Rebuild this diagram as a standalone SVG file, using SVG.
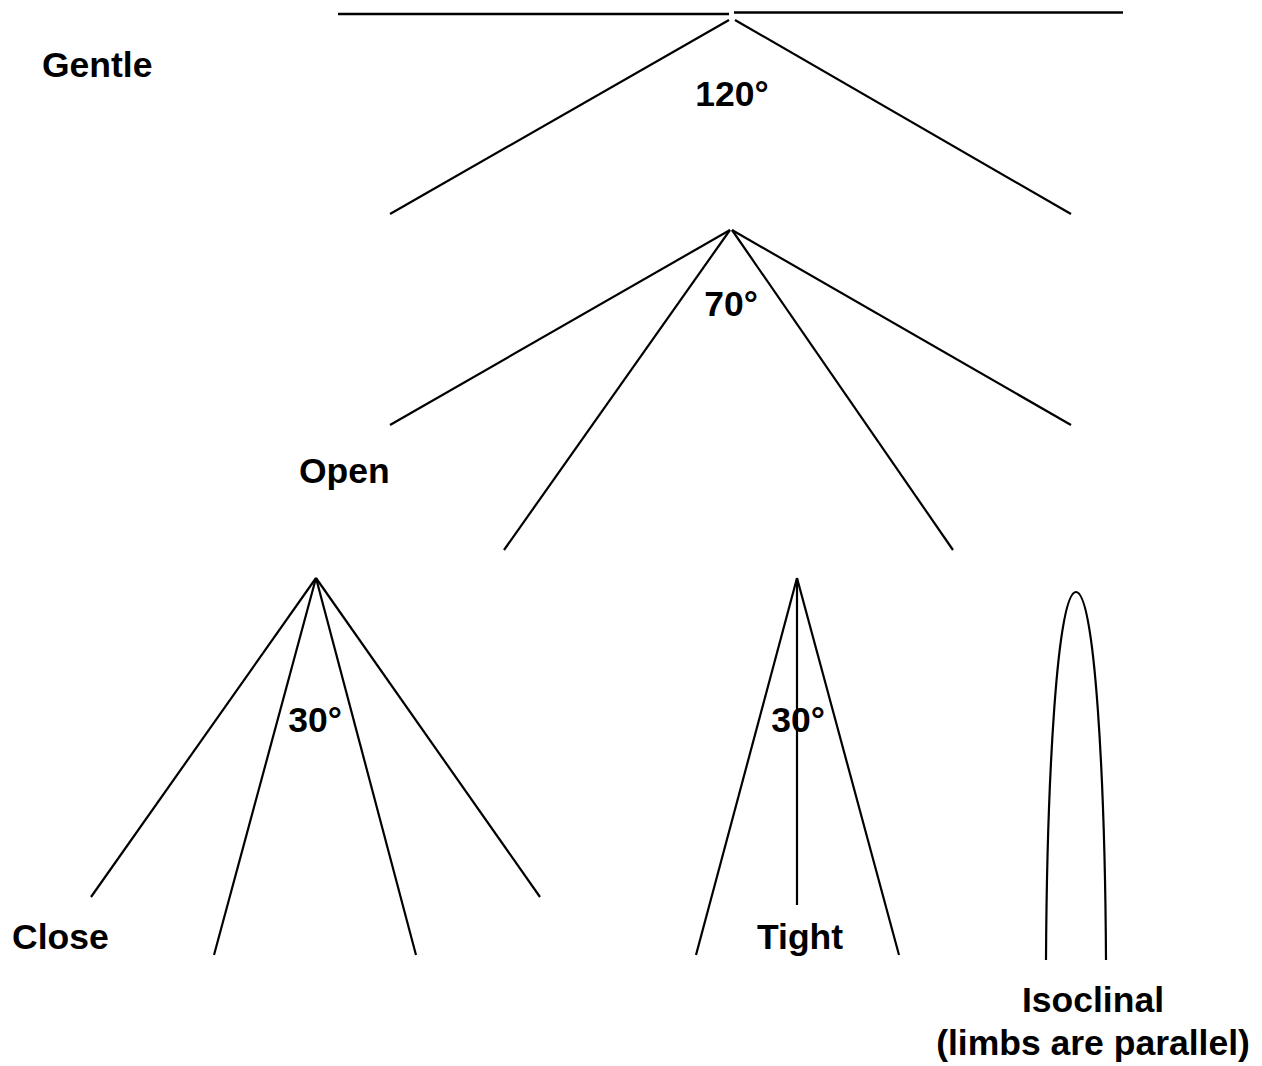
<svg xmlns="http://www.w3.org/2000/svg" width="1262" height="1066" viewBox="0 0 1262 1066">
  <style>
    .limb { stroke: #000; stroke-width: 2.2; fill: none; stroke-linecap: butt; }
    .axial { stroke: #000; stroke-width: 2.6; fill: none; }
    .lbl { font-family: "Liberation Sans", Arial, Helvetica, sans-serif; font-weight: bold; font-size: 35.5px; fill: #000; }
    .mid { text-anchor: middle; }
  </style>
  <rect width="1262" height="1066" fill="#fff"/>

  <!-- Gentle fold: 120 degree interlimb angle, with the flat reference line -->
  <g id="gentle">
    <line class="axial" x1="338" y1="14" x2="729" y2="14"/>
    <line class="axial" x1="734" y1="12.5" x2="1123" y2="12.5"/>
    <line class="limb" x1="729" y1="20" x2="390" y2="214"/>
    <line class="limb" x1="735" y1="20" x2="1071" y2="214"/>
    <text class="lbl" x="42" y="77">Gentle</text>
    <text class="lbl mid" x="732" y="106">120°</text>
  </g>

  <!-- Open fold: 70 degrees, compared against the 120 degree limbs -->
  <g id="open">
    <line class="limb" x1="730" y1="230" x2="390" y2="425"/>
    <line class="limb" x1="732" y1="230" x2="1071" y2="425"/>
    <line class="limb" x1="730" y1="230" x2="504" y2="550"/>
    <line class="limb" x1="732" y1="230" x2="953" y2="550"/>
    <text class="lbl mid" x="731" y="316">70°</text>
    <text class="lbl" x="299" y="483">Open</text>
  </g>

  <!-- Close fold: 30 degrees, compared against the 70 degree limbs -->
  <g id="close">
    <line class="limb" x1="316" y1="578" x2="91" y2="897"/>
    <line class="limb" x1="316" y1="578" x2="540" y2="897"/>
    <line class="limb" x1="316" y1="578" x2="214" y2="955"/>
    <line class="limb" x1="316" y1="578" x2="416" y2="955"/>
    <text class="lbl mid" x="315" y="732">30°</text>
    <text class="lbl" x="12" y="949">Close</text>
  </g>

  <!-- Tight fold: 30 degrees with its axial trace -->
  <g id="tight">
    <line class="limb" x1="797" y1="578" x2="696" y2="955"/>
    <line class="limb" x1="797" y1="578" x2="899" y2="955"/>
    <line class="limb" x1="797" y1="578" x2="797" y2="905"/>
    <text class="lbl mid" x="798" y="732">30°</text>
    <text class="lbl" x="757" y="949">Tight</text>
  </g>

  <!-- Isoclinal fold: parallel limbs joined by a narrow hinge -->
  <g id="isoclinal">
    <path class="limb" d="M1046 960 C1047 780 1057 592 1076 592 C1095 592 1105 780 1106 960"/>
    <text class="lbl mid" x="1093" y="1012">Isoclinal</text>
    <text class="lbl mid" x="1093" y="1055">(limbs are parallel)</text>
  </g>

  <g id="connectors"/>
</svg>
